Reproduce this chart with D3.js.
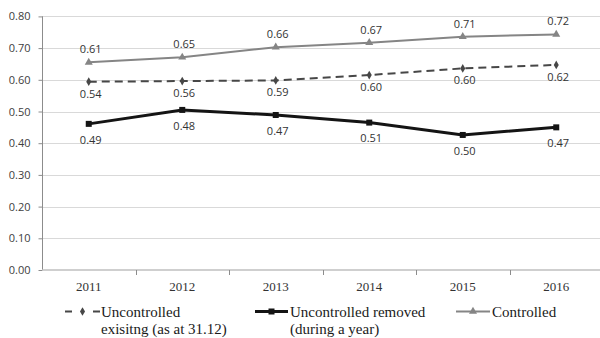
<!DOCTYPE html>
<html>
<head>
<meta charset="utf-8">
<script src="https://cdn.jsdelivr.net/npm/d3@7"></script>
<style>
  html, body { margin: 0; padding: 0; background: #fff; }
  svg { display: block; }
</style>
</head>
<body>
<svg id="chart" width="600" height="338"></svg>
<script>
const years = ["2011", "2012", "2013", "2014", "2015", "2016"];
const uncontrolledExisting = [0.594, 0.596, 0.598, 0.615, 0.636, 0.647];
const uncontrolledRemoved = [0.461, 0.505, 0.489, 0.465, 0.426, 0.450];
const controlled = [0.655, 0.671, 0.703, 0.717, 0.736, 0.743];
const existingLabels = ["0.54", "0.56", "0.59", "0.60", "0.60", "0.62"];
const removedLabels = ["0.49", "0.48", "0.47", "0.51", "0.50", "0.47"];
const controlledLabels = ["0.61", "0.65", "0.66", "0.67", "0.71", "0.72"];
const yTicks = [0, 0.1, 0.2, 0.3, 0.4, 0.5, 0.6, 0.7, 0.8];
const legendNames = [["Uncontrolled", "exisitng (as at 31.12)"], ["Uncontrolled removed", "(during a year)"], ["Controlled"]];

const svg = d3.select("#chart");
const x = d3.scaleBand().domain(years).range([42, 603]).padding(0);
const y = d3.scaleLinear().domain([0, 0.8]).range([270, 16.4]);
const cx = d => x(d) + x.bandwidth() / 2;

// gridlines
svg.append("g").selectAll("line").data(yTicks.filter(t => t > 0)).join("line")
  .attr("x1", 42).attr("x2", 600)
  .attr("y1", d => Math.round(y(d)) + 0.5).attr("y2", d => Math.round(y(d)) + 0.5)
  .attr("stroke", "#d9d9d9").attr("stroke-width", 1);

// y axis
const yAxis = d3.axisLeft(y).tickValues(yTicks).tickFormat(d3.format(".2f")).tickSize(4).tickPadding(8);
const gy = svg.append("g").attr("transform", "translate(42.5,0)").call(yAxis);
gy.select(".domain").attr("stroke", "#8c8c8c").attr("d", `M-0,${y(0.8)}V${y(0)}`);
gy.selectAll(".tick line").attr("stroke", "#8c8c8c");
gy.selectAll(".tick text").attr("font-family", "'Open Sans', sans-serif").attr("font-size", "11px").attr("fill", "#404040");

// x axis
const xAxis = d3.axisBottom(x).tickSize(0).tickPadding(12);
const gx = svg.append("g").attr("transform", "translate(0,270)").call(xAxis);
gx.select(".domain").attr("stroke", "#bfbfbf").attr("stroke-width", 1.6).attr("d", "M42,0H600");
gx.selectAll(".tick text").attr("font-family", "'Liberation Serif', 'Times New Roman', serif").attr("font-size", "13px").attr("fill", "#333");
// x tick marks at band boundaries
svg.append("g").selectAll("line").data(years.slice(1)).join("line")
  .attr("x1", d => Math.round(x(d)) + 0.5).attr("x2", d => Math.round(x(d)) + 0.5)
  .attr("y1", 270).attr("y2", 275).attr("stroke", "#8c8c8c");

const line = d3.line().x((d, i) => cx(years[i])).y(d => y(d));

const series = [
  { vals: controlled, labels: controlledLabels, color: "#858585", width: 2, dash: null, marker: "tri", dy: -13 },
  { vals: uncontrolledExisting, labels: existingLabels, color: "#474747", width: 2, dash: "8,5", marker: "dia", dy: 12 },
  { vals: uncontrolledRemoved, labels: removedLabels, color: "#141414", width: 3, dash: null, marker: "sq", dy: 16 }
];

function marker(g, type, color) {
  if (type === "tri") g.append("path").attr("d", d3.symbol(d3.symbolTriangle, 28)()).attr("fill", color);
  else if (type === "dia") g.append("path").attr("d", d3.symbol(d3.symbolDiamond, 22)()).attr("fill", color);
  else g.append("rect").attr("x", -3).attr("y", -3).attr("width", 6).attr("height", 6).attr("fill", color);
}

series.forEach(s => {
  svg.append("path").datum(s.vals).attr("d", line).attr("fill", "none")
    .attr("stroke", s.color).attr("stroke-width", s.width)
    .attr("stroke-dasharray", s.dash);
  s.vals.forEach((v, i) => {
    const g = svg.append("g").attr("transform", `translate(${cx(years[i])},${y(v)})`);
    marker(g, s.marker, s.color);
    svg.append("text").attr("x", cx(years[i]) + 2).attr("y", y(v) + s.dy).attr("dy", "0.35em")
      .attr("text-anchor", "middle").attr("font-family", "'Open Sans', sans-serif").attr("font-size", "11px")
      .attr("fill", "#333").text(s.labels[i]);
  });
});

// legend
const legendItems = [
  { x0: 65, x1: 100, tx: 101, s: series[1] },
  { x0: 255, x1: 288, tx: 290, s: series[2] },
  { x0: 456, x1: 490, tx: 492, s: series[0] }
];
const ly = 311.5;
legendItems.forEach((it, k) => {
  const s = it.s;
  svg.append("line").attr("x1", it.x0).attr("x2", it.x1).attr("y1", ly).attr("y2", ly)
    .attr("stroke", s.color).attr("stroke-width", s.width)
    .attr("stroke-dasharray", s.dash ? "7,21,7" : null);
  const g = svg.append("g").attr("transform", `translate(${(it.x0 + it.x1) / 2},${ly})`);
  marker(g, s.marker, s.color);
  const t = svg.append("text").attr("font-family", "'Liberation Serif', 'Times New Roman', serif")
    .attr("font-size", "15px").attr("fill", "#1a1a1a");
  legendNames[k].forEach((ln, j) => {
    t.append("tspan").attr("x", it.tx).attr("y", 316.5 + j * 17).text(ln);
  });
});
</script>
</body>
</html>
